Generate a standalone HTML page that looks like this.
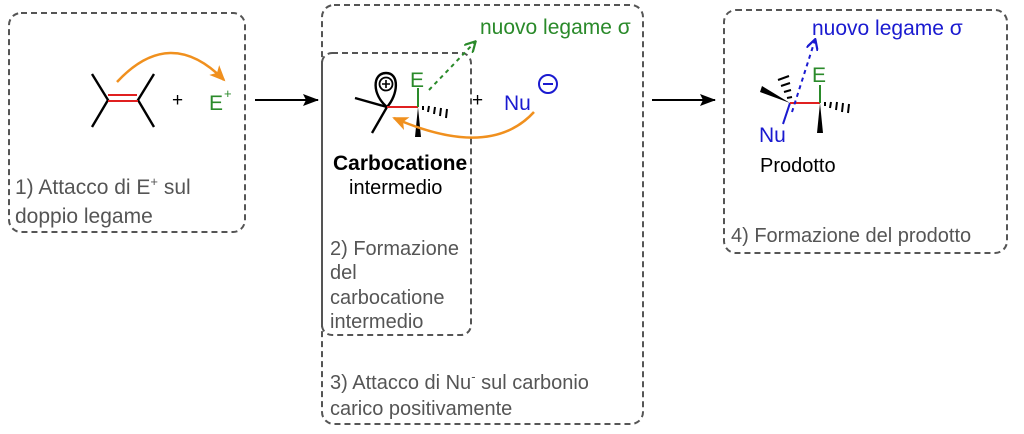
<!DOCTYPE html>
<html><head><meta charset="utf-8"><style>
html,body{margin:0;padding:0;background:#fff;}
svg{display:block;font-family:"Liberation Sans",Arial,sans-serif;}
</style></head><body>
<svg width="1024" height="434" viewBox="0 0 1024 434" xmlns="http://www.w3.org/2000/svg">
<defs>
<marker id="ah" markerWidth="16" markerHeight="12" refX="15" refY="6" orient="auto" markerUnits="userSpaceOnUse"><path d="M0,0 L16,6 L0,12 L3,6 Z" fill="#000"/></marker>
<marker id="oa" markerWidth="16" markerHeight="14" refX="14" refY="7" orient="auto" markerUnits="userSpaceOnUse"><path d="M0,0 L16,7 L0,14 L4,7 Z" fill="#f0901e"/></marker>
<marker id="ga" markerWidth="12" markerHeight="12" refX="10" refY="6" orient="auto" markerUnits="userSpaceOnUse"><path d="M0,0 L11,6 L0,12" fill="none" stroke="#2a8a2a" stroke-width="2.2"/></marker>
<marker id="ba" markerWidth="12" markerHeight="12" refX="10" refY="6" orient="auto" markerUnits="userSpaceOnUse"><path d="M0,0 L11,6 L0,12" fill="none" stroke="#1a1ad0" stroke-width="2.2"/></marker>
</defs>
<g fill="none" stroke="#555" stroke-width="2" stroke-dasharray="6,4">
<rect x="9" y="13" width="236" height="219" rx="12"/>
<rect x="322" y="5" width="321" height="419" rx="12"/>
<rect x="322" y="53" width="149" height="282" rx="10"/>
<rect x="724" y="10" width="283" height="243" rx="12"/>
</g>
<!-- alkene -->
<g stroke="#000" stroke-width="2.4" fill="none">
<path d="M92,74 L108,100 L92,127"/>
<path d="M154,74 L138,100 L154,127"/>
</g>
<line x1="108" y1="95" x2="137" y2="95" stroke="#e02020" stroke-width="2"/>
<line x1="108" y1="101" x2="138" y2="101" stroke="#e02020" stroke-width="2"/>
<path d="M117,82 Q170,25 224,80" fill="none" stroke="#f0901e" stroke-width="2.5" marker-end="url(#oa)"/>
<text x="172" y="106" font-size="19" fill="#000">+</text>
<text x="209" y="110" font-size="21" fill="#2a8a2a">E</text><text x="224" y="98" font-size="13" fill="#2a8a2a">+</text>
<line x1="255" y1="100" x2="318" y2="100" stroke="#000" stroke-width="2" marker-end="url(#ah)"/>
<text x="15" y="194" font-size="21" fill="#555">1) Attacco di E<tspan font-size="13" dy="-8">+</tspan><tspan dy="8"> sul</tspan></text>
<text x="15" y="223" font-size="21" fill="#555">doppio legame</text>
<!-- carbocation -->
<g stroke="#000" stroke-width="2.4" fill="none">
<path d="M355,98 L387,107 L372,133"/>
<path d="M387,107 C372,95 372,73 386,73 C400,73 398,95 387,107"/>
<circle cx="386" cy="84" r="6.5" stroke-width="1.8"/>
<path d="M382,84 h8 M386,80 v8" stroke-width="1.6"/>
</g>
<line x1="387" y1="107" x2="418" y2="107" stroke="#e02020" stroke-width="2"/>
<line x1="418" y1="88" x2="418" y2="107" stroke="#2a8a2a" stroke-width="2"/>
<text x="410" y="87" font-size="21" fill="#2a8a2a">E</text>
<polygon points="418,107 415,137 421,137" fill="#000"/>
<g stroke="#000" stroke-width="2"><line x1="423" y1="106" x2="423" y2="110"/><line x1="429" y1="106" x2="428" y2="112"/><line x1="435" y1="107" x2="434" y2="114"/><line x1="441" y1="108" x2="440" y2="116"/><line x1="447" y1="109" x2="446" y2="118"/></g>
<line x1="429" y1="90" x2="475" y2="42" stroke="#2a8a2a" stroke-width="2" stroke-dasharray="4,4" marker-end="url(#ga)"/>
<text x="480" y="34" font-size="21" fill="#2a8a2a">nuovo legame σ</text>
<text x="472" y="106" font-size="19" fill="#000">+</text>
<text x="504" y="110" font-size="21" fill="#1a1ad0">Nu</text>
<circle cx="548" cy="84" r="9" fill="none" stroke="#1a1ad0" stroke-width="2"/>
<line x1="543" y1="84" x2="553" y2="84" stroke="#1a1ad0" stroke-width="2"/>
<path d="M534,112 Q490,160 394,118" fill="none" stroke="#f0901e" stroke-width="2.5" marker-end="url(#oa)"/>
<text x="333" y="170" font-size="21" font-weight="bold" fill="#000">Carbocatione</text>
<text x="349" y="194" font-size="20" fill="#000">intermedio</text>
<g font-size="20" fill="#555">
<text x="330" y="255">2) Formazione</text>
<text x="330" y="279">del</text>
<text x="330" y="304">carbocatione</text>
<text x="330" y="328">intermedio</text>
<text x="330" y="389">3) Attacco di Nu<tspan font-size="13" dy="-8">-</tspan><tspan dy="8"> sul carbonio</tspan></text>
<text x="330" y="415">carico positivamente</text>
</g>
<line x1="652" y1="100" x2="715" y2="100" stroke="#000" stroke-width="2" marker-end="url(#ah)"/>
<!-- product -->
<polygon points="790,103 762,86 760,92" fill="#000"/>
<g stroke="#000" stroke-width="2"><line x1="787" y1="98" x2="792" y2="97"/><line x1="784" y1="92" x2="791" y2="90"/><line x1="781" y1="86" x2="790" y2="83"/><line x1="778" y1="80" x2="789" y2="76"/></g>
<line x1="790" y1="103" x2="783" y2="124" stroke="#1a1ad0" stroke-width="2"/>
<text x="759" y="142" font-size="21" fill="#1a1ad0">Nu</text>
<line x1="790" y1="103" x2="820" y2="103" stroke="#e02020" stroke-width="2"/>
<line x1="820" y1="85" x2="820" y2="103" stroke="#2a8a2a" stroke-width="2"/>
<text x="812" y="82" font-size="21" fill="#2a8a2a">E</text>
<polygon points="820,103 817,133 823,133" fill="#000"/>
<g stroke="#000" stroke-width="2"><line x1="825" y1="102" x2="825" y2="106"/><line x1="831" y1="102" x2="830" y2="108"/><line x1="837" y1="102" x2="836" y2="110"/><line x1="843" y1="103" x2="842" y2="112"/><line x1="849" y1="104" x2="848" y2="113"/></g>
<line x1="792" y1="112" x2="815" y2="40" stroke="#1a1ad0" stroke-width="2" stroke-dasharray="4,4" marker-end="url(#ba)"/>
<text x="812" y="35" font-size="21" fill="#1a1ad0">nuovo legame σ</text>
<text x="760" y="172" font-size="20" fill="#000">Prodotto</text>
<text x="731" y="242" font-size="20" fill="#555">4) Formazione del prodotto</text>
</svg>
</body></html>
